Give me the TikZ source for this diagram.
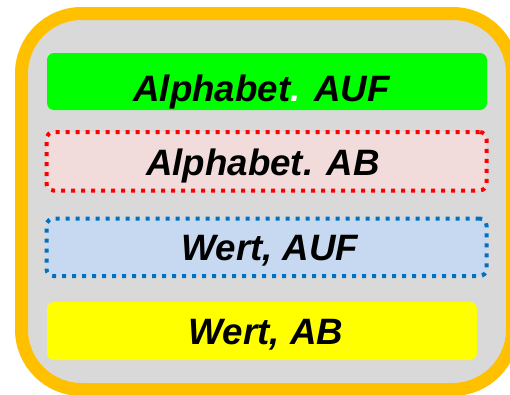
\documentclass[tikz,border=0pt]{standalone}
\usepackage{fontspec}
\setmainfont{Liberation Sans}
\definecolor{frameorange}{HTML}{FFC000}
\definecolor{framegray}{HTML}{D9D9D9}
\definecolor{boxgreen}{HTML}{00FF00}
\definecolor{boxpink}{HTML}{F2DCDB}
\definecolor{boxred}{HTML}{FF0000}
\definecolor{boxblue}{HTML}{C6D9F0}
\definecolor{lineblue}{HTML}{0070C0}
\definecolor{boxyellow}{HTML}{FFFF00}
\begin{document}
\begin{tikzpicture}[x=1pt,y=-1pt,
  panel/.style={rectangle,inner sep=0pt,outer sep=0pt,rounded corners=7pt},
  dotline/.style={line width=4pt,dash pattern=on 4pt off 6pt,line cap=butt},
  label/.style={anchor=base,inner sep=0pt,font=\fontsize{36.7}{40}\selectfont\bfseries\itshape}]
\useasboundingbox (0,0) rectangle (510,394);
\begin{scope}
\clip (0,0) rectangle (510,394);
\draw[line width=13pt,draw=frameorange,fill=framegray,rounded corners=60pt]
  (21.5,13.5) rectangle (512.5,389.5);
\end{scope}
\node[panel,fill=boxgreen,minimum width=440pt,minimum height=57pt] (g) at (267,81.5) {};
\node[panel,dotline,draw=boxred,fill=boxpink,minimum width=440pt,minimum height=58.5pt] (r) at (266.5,161.25) {};
\node[panel,dotline,draw=lineblue,fill=boxblue,minimum width=440pt,minimum height=57.5pt] (b) at (266.5,247.25) {};
\node[panel,fill=boxyellow,minimum width=430pt,minimum height=58pt] (y) at (262,331) {};
\node[label] (gt) at (261.5,101) {Alphabet{\color{white}.} AUF};
\node[label] (rt) at (263,175) {Alphabet. AB};
\node[label] (bt) at (270,260) {Wert, AUF};
\node[label] (yt) at (266,344) {Wert, AB};
\end{tikzpicture}
\end{document}
